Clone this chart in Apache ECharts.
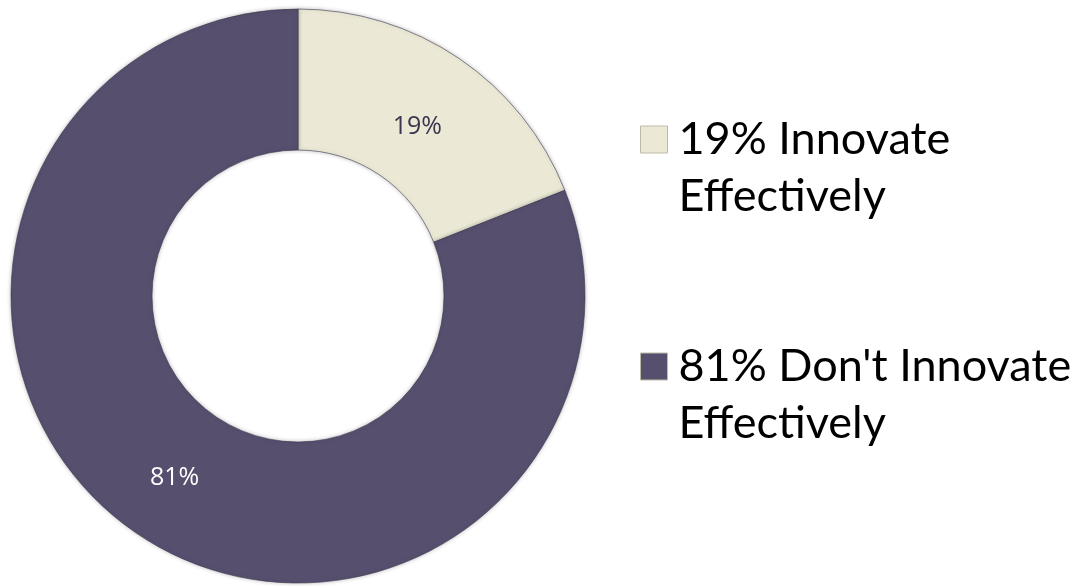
<!DOCTYPE html>
<html><head><meta charset="utf-8">
<script src="https://cdn.jsdelivr.net/npm/echarts@6/dist/echarts.min.js"></script>
<style>html,body{margin:0;padding:0;background:#fff}#c{width:1083px;height:586px}</style>
</head><body><div id="c"></div>
<script>
const categories = ["19% Innovate\nEffectively", "81% Don't Innovate\nEffectively"];
const values = [19, 81];
const sliceLabels = ["19%", "81%"];
const colors = ["#ebe9d6", "#574f6e"];
const labelColors = ["#3b3550", "#ffffff"];
const labelOffsets = [[-4, 12], [0, 0]];

const chart = echarts.init(document.getElementById('c'));
chart.setOption({
  animation: false,
  backgroundColor: '#ffffff',
  legend: {
    orient: 'vertical',
    left: 635,
    top: 49,
    itemWidth: 27,
    itemHeight: 27,
    itemGap: 56,
    icon: 'rect',
    data: categories,
    formatter: n => ' \n' + n,
    textStyle: {
      fontFamily: 'Lato',
      fontSize: 45,
      color: '#000',
      lineHeight: 57,
      padding: [0, 0, 0, 6]
    },
    itemStyle: { borderColor: '#bdbaa8', borderWidth: 1 }
  },
  series: [{
    type: 'pie',
    center: [298, 296],
    radius: [146, 287],
    startAngle: 90,
    clockwise: true,
    data: categories.map((c, i) => ({
      name: c,
      value: values[i],
      itemStyle: { color: colors[i] },
      label: { color: labelColors[i], formatter: sliceLabels[i], offset: labelOffsets[i] }
    })),
    itemStyle: {
      borderColor: 'rgba(60,55,80,0.6)',
      borderWidth: 1,
      shadowBlur: 4,
      shadowColor: 'rgba(0,0,0,0.25)'
    },
    label: {
      show: true,
      position: 'inside',
      fontFamily: 'Open Sans',
      fontSize: 25
    },
    labelLine: { show: false },
    emphasis: { disabled: true }
  }]
});
</script></body></html>
